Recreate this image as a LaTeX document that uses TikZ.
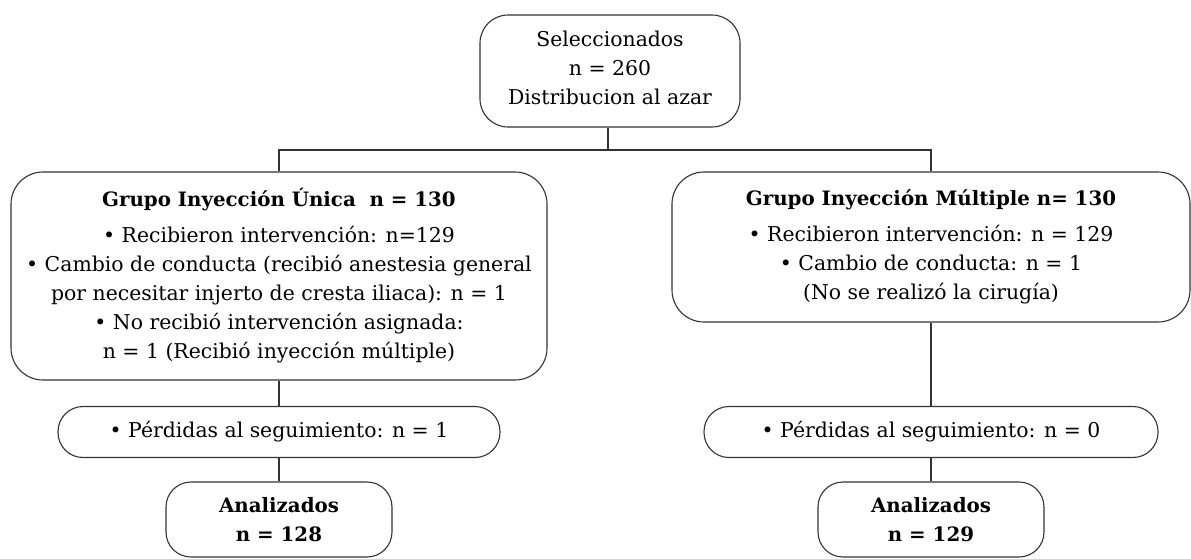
\documentclass[tikz,border=0pt]{standalone}
\usepackage{fontspec}
\setmainfont{DejaVu Serif}
\newcommand{\ttl}[1]{{\fontsize{19.8}{29}\selectfont\bfseries #1}}
\begin{document}
\begin{tikzpicture}[x=1pt,y=-1pt,
  box/.style={draw=black!80, line width=1.1pt, rounded corners=#1, align=center, inner sep=0pt,
    font=\fontsize{20.4}{29}\selectfont},
  box/.default=30pt,
  conn/.style={draw=black!80, line width=1.1pt}]
\useasboundingbox (0,0) rectangle (1191,558);
\node[box=28pt, minimum width=260pt, minimum height=112pt] (top) at (610,71)
  {Seleccionados\\ n = 260\\ Distribucion al azar\\[-23pt]};
\node[box=32pt, minimum width=536pt, minimum height=208pt] (left) at (279,276)
  {\ttl{Grupo Inyección Única\ \ n = 130}\\[7pt]
   • Recibieron intervención: n=129\\
   • Cambio de conducta (recibió anestesia general\\
   por necesitar injerto de cresta iliaca): n = 1\\
   • No recibió intervención asignada:\\
   n = 1 (Recibió inyección múltiple)};
\node[box=32pt, minimum width=518pt, minimum height=150pt] (right) at (931,247)
  {\ttl{Grupo Inyección Múltiple n= 130}\\[7pt]
   • Recibieron intervención: n = 129\\
   • Cambio de conducta: n = 1\\
   (No se realizó la cirugía)};
\node[box=25pt, minimum width=442pt, minimum height=51pt] (lp) at (279,432)
  {• Pérdidas al seguimiento: n = 1};
\node[box=25pt, minimum width=454pt, minimum height=51pt] (rp) at (931,432)
  {• Pérdidas al seguimiento: n = 0};
\node[box=25pt, minimum width=226pt, minimum height=75pt] (la) at (279,519.5)
  {\ttl{Analizados}\\ \ttl{n = 128}};
\node[box=25pt, minimum width=226pt, minimum height=75pt] (ra) at (931,519.5)
  {\ttl{Analizados}\\ \ttl{n = 129}};
\coordinate (j) at (608,150);
\coordinate (jl) at (279,150);
\coordinate (jr) at (931,150);
\draw[conn] (top.south -| j) -- (j);
\draw[conn] (left.north) -- (jl) -- (jr) -- (right.north);
\draw[conn] (left.south) -- (lp.north);
\draw[conn] (lp.south) -- (la.north);
\draw[conn] (right.south) -- (rp.north);
\draw[conn] (rp.south) -- (ra.north);
\end{tikzpicture}
\end{document}
